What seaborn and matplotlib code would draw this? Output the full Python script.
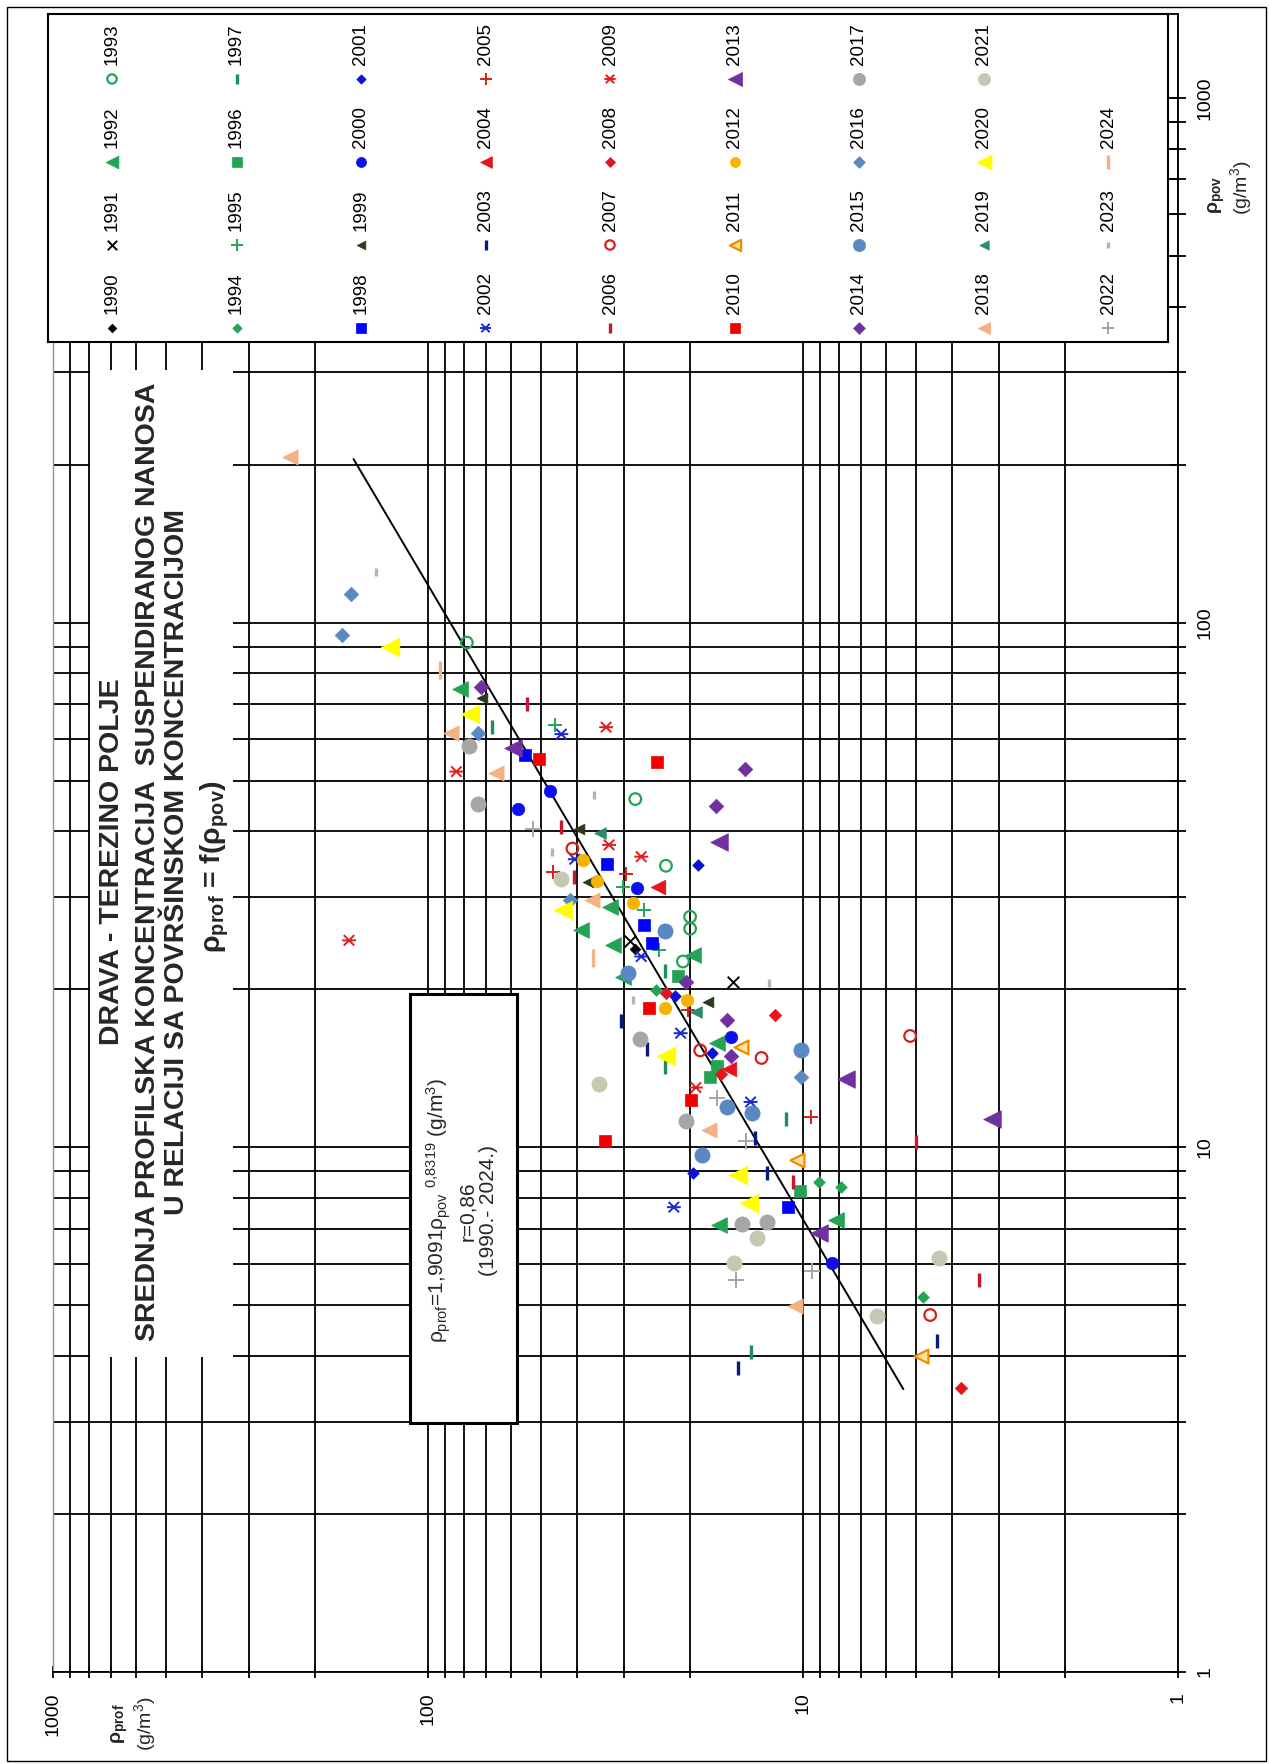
import numpy as np
import pandas as pd
import seaborn as sns
import matplotlib.pyplot as plt
from matplotlib import font_manager
from matplotlib.patches import Rectangle
from matplotlib.path import Path
from matplotlib.ticker import LogLocator, NullFormatter, FixedLocator

# values, g/m3 (one sub-list per year)
years = list(range(1990, 2025))
pov_values = [
    [23.9],
    [24.7, 20.7],
    [74.6, 28.7, 26.0, 24.3, 21.1, 23.3, 15.8, 7.11, 7.27],
    [91.6, 46.1, 34.4, 27.5, 26.1, 22.6],
    [19.9, 8.58, 8.39, 5.19],
    [63.8, 31.4, 28.3, 23.8],
    [21.2, 13.6, 14.3, 8.27],
    [63.2, 21.7, 14.2, 4.08, 11.3],
    [55.9, 34.6, 26.5, 24.5, 7.69],
    [71.7, 40.5, 18.9, 32.1],
    [44.1, 47.8, 31.2, 16.2, 6.01],
    [34.5, 19.4, 15.1, 8.92],
    [61.3, 35.4, 23.1, 16.5, 12.2, 7.69],
    [17.4, 15.4, 10.4, 8.92, 3.79, 4.28],
    [31.4, 14.1],
    [33.4, 33.2, 18.3, 11.4],
    [70.0, 40.8, 32.7, 10.25, 8.6, 5.59],
    [37.1, 14.8, 15.3, 16.3, 4.79],
    [19.7, 13.8, 17.9, 3.47],
    [52.0, 63.2, 37.7, 35.8, 13.0, 24.8],
    [55.0, 54.2, 18.4, 12.3, 10.3],
    [15.5, 9.46, 4.0],
    [35.3, 32.2, 29.2, 19.1, 18.4],
    [57.6, 38.1, 13.5, 11.3, 6.87],
    [75.5, 52.5, 44.7, 20.7, 17.5, 14.9],
    [21.5, 25.8, 11.95, 11.6, 9.67, 15.3],
    [113.2, 94.7, 61.7, 29.6, 13.6],
    [58.2, 45.1, 16.1, 11.2, 7.14, 7.22],
    [207.0, 61.5, 51.6, 29.6, 10.8, 4.98],
    [39.7, 18.1],
    [90.0, 67.0, 28.3, 14.9, 8.86, 7.82],
    [32.4, 13.2, 6.71, 6.03, 6.14, 4.77],
    [40.4, 12.4, 10.3, 5.59, 5.82],
    [124.9, 46.9, 36.6, 19.1, 20.6],
    [81.2, 23.0],
]
prof_values = [
    [28.0],
    [29.0, 15.4],
    [82.0, 32.8, 39.0, 32.1, 30.2, 19.7, 17.0, 16.7, 8.16],
    [78.8, 28.0, 23.2, 20.0, 20.0, 20.9],
    [24.6, 9.04, 7.91, 4.78],
    [45.9, 30.2, 26.5, 24.2],
    [21.6, 17.7, 17.0, 10.2],
    [67.4, 23.3, 23.3, 13.8, 11.1],
    [55.2, 33.3, 26.5, 25.2, 10.98],
    [71.6, 39.6, 17.9, 37.5],
    [57.5, 47.4, 27.7, 15.6, 8.36],
    [19.1, 21.9, 17.5, 19.7],
    [44.1, 40.6, 27.0, 21.2, 13.8, 22.1],
    [30.5, 26.1, 13.4, 12.5, 14.9, 4.40],
    [24.4, 15.8],
    [46.4, 29.6, 20.3, 9.51],
    [54.5, 44.1, 40.9, 5.0, 10.65, 3.40],
    [41.2, 12.9, 18.8, 5.18, 4.58],
    [23.2, 16.5, 11.9, 3.79],
    [84.0, 33.5, 32.9, 27.0, 19.3, 162.4],
    [50.7, 24.5, 25.7, 19.9, 33.8],
    [14.6, 10.4, 4.84],
    [38.5, 35.5, 28.4, 20.4, 23.4],
    [59.4, 16.8, 7.68, 3.13, 9.04],
    [72.1, 14.3, 17.1, 20.5, 15.9, 15.6],
    [29.3, 23.4, 15.9, 13.7, 18.6, 10.1],
    [160.7, 169.8, 73.6, 41.9, 10.1],
    [77.7, 73.6, 27.2, 20.5, 14.5, 12.5],
    [234.0, 86.6, 65.7, 36.5, 17.8, 10.5],
    [34.7, 19.3],
    [126.5, 77.4, 43.7, 23.2, 14.9, 13.9],
    [44.1, 35.1, 13.3, 15.3, 4.33, 6.36],
    [52.5, 17.0, 14.2, 15.1, 9.46],
    [137.8, 36.0, 46.7, 28.4, 12.3],
    [93.0, 36.2],
]
# regression line end points
line_pov = [3.46, 205.0]
line_prof = [5.4, 158.0]

tick_values = [1, 10, 100, 1000]
tick_labels = ["1", "10", "100", "1000"]

title_lines = ["DRAVA - TEREZINO POLJE",
               "SREDNJA PROFILSKA KONCENTRACIJA  SUSPENDIRANOG NANOSA",
               "U RELACIJI SA POVRŠINSKOM KONCENTRACIJOM"]
title_formula = r"$\mathbf{ρ_{prof}}$ = f($\mathbf{ρ_{pov}}$)"
eq_lines = [r"$ρ_{prof}$=1,9091$ρ_{pov}$ $^{0{,}8319}$ (g/m$^3$)",
            "r=0,86",
            "(1990.- 2024.)"]

# chart is drawn turned by 90 degrees: x = rho_prof (reversed), y = rho_pov
STAR = Path([(-1, 0), (1, 0), (-0.75, -0.75), (0.75, 0.75), (-0.75, 0.75), (0.75, -0.75)],
            [Path.MOVETO, Path.LINETO, Path.MOVETO, Path.LINETO, Path.MOVETO, Path.LINETO])
GREEN = "#23a455"
year_style = {
    1990: ("D", "#000000", 30, "fill"),
    1991: ("x", "#000000", 70, "line"),
    1992: ("<", GREEN, 130, "fill"),
    1993: ("o", GREEN, 70, "open"),
    1994: ("D", GREEN, 35, "fill"),
    1995: ("+", GREEN, 100, "line"),
    1996: ("s", GREEN, 70, "fill"),
    1997: ("|", "#1f8f5a", 90, "line"),
    1998: ("s", "#0000ff", 80, "fill"),
    1999: ("<", "#2b3a1c", 60, "fill"),
    2000: ("o", "#0a10ee", 80, "fill"),
    2001: ("D", "#0a10dd", 35, "fill"),
    2002: (STAR, "#1a2ad0", 100, "star"),
    2003: ("|", "#0a1a7a", 90, "line"),
    2004: ("<", "#e8141c", 110, "fill"),
    2005: ("+", "#d42020", 100, "line"),
    2006: ("|", "#c41a2e", 90, "line"),
    2007: ("o", "#d42020", 70, "open"),
    2008: ("D", "#e8141c", 40, "fill"),
    2009: (STAR, "#e02020", 100, "star"),
    2010: ("s", "#f00000", 85, "fill"),
    2011: ("<", "#f08c00", 100, "pale"),
    2012: ("o", "#f5b400", 80, "fill"),
    2013: ("<", "#7030a0", 160, "fill"),
    2014: ("D", "#7030a0", 55, "fill"),
    2015: ("o", "#5b87c2", 120, "fill"),
    2016: ("D", "#5b87c2", 55, "fill"),
    2017: ("o", "#a6a6a6", 120, "fill"),
    2018: ("<", "#f4b183", 120, "fill"),
    2019: ("<", "#2e8b6a", 70, "fill"),
    2020: ("<", "#ffff00", 180, "fill"),
    2021: ("o", "#c5c9b2", 120, "fill"),
    2022: ("+", "#a6a6a6", 120, "line"),
    2023: ("|", "#b4b4b4", 35, "line"),
    2024: ("|", "#f4b183", 150, "line"),
}

sns.set_theme(style="white")
names = {f.name for f in font_manager.fontManager.ttflist}
base_font = "Liberation Sans Narrow" if "Liberation Sans Narrow" in names else "Liberation Sans"
k = 1.2 if base_font.endswith("Narrow") else 1.0
plt.rcParams["font.family"] = [base_font, "DejaVu Sans"]
plt.rcParams["mathtext.fontset"] = "custom"
plt.rcParams["mathtext.rm"] = base_font
plt.rcParams["mathtext.it"] = base_font
plt.rcParams["mathtext.bf"] = base_font + ":bold"

W, H = 1269, 1764


def fx(px):
    return px / W


def fy(py):
    return 1 - py / H


def draw_year(axis, xs, ys, year, scale=1.0):
    m, c, s, kind = year_style[year]
    kw = dict(marker=m, s=s * scale, ax=axis, legend=False, zorder=4)
    if kind == "fill":
        kw.update(color=c, edgecolor=c, linewidth=0.5)
    elif kind == "open":
        kw.update(color=c, facecolor="none", edgecolor=c, linewidth=1.6)
    elif kind == "pale":
        kw.update(color=c, facecolor="#ffe49a", edgecolor=c, linewidth=1.6)
    elif kind == "star":
        kw.update(color=c, facecolor="none", edgecolor=c, linewidth=1.4)
    else:
        kw.update(color=c, linewidth=2.4 if m == "|" else 1.4)
    sns.scatterplot(x=xs, y=ys, **kw)


fig = plt.figure(figsize=(W / 100, H / 100), dpi=100)
fig.patch.set_facecolor("white")
ax = fig.add_axes([fx(53), fy(1672), (1178 - 53) / W, (1672 - 14) / H])
ax.set_xscale("log")
ax.set_yscale("log")

df = pd.DataFrame({
    "year": [y for y, v in zip(years, pov_values) for _ in v],
    "pov": [p for v in pov_values for p in v],
    "prof": [p for v in prof_values for p in v],
})
for yr, g in df.groupby("year"):
    draw_year(ax, g["prof"].tolist(), g["pov"].tolist(), yr)

ax.plot(line_prof, line_pov, color="black", lw=1.4, zorder=3)

ax.set_xlim(1000, 1)
ax.set_ylim(1, 10 ** (1658 / 524.7))
ax.set_xlabel("")
ax.set_ylabel("")
for axis in (ax.xaxis, ax.yaxis):
    axis.set_major_locator(FixedLocator(tick_values))
    axis.set_minor_locator(LogLocator(base=10, subs=np.arange(2, 10)))
    axis.set_minor_formatter(NullFormatter())
ax.set_xticks(tick_values)
ax.set_xticklabels(tick_labels, rotation=90, fontsize=14 * k)
ax.yaxis.tick_right()
ax.set_yticks(tick_values)
ax.set_yticklabels(tick_labels, rotation=90, va="center", fontsize=14 * k)
ax.tick_params(axis="x", which="both", direction="inout", length=9, width=1.3,
               pad=10, bottom=True, color="black", labelcolor="black")
ax.tick_params(axis="y", which="both", direction="inout", length=12, width=1.3,
               pad=7.5, right=True, left=False, color="black", labelcolor="black")
ax.grid(True, which="both", color="black", linewidth=1.3)
ax.set_axisbelow(True)
for side, sp in ax.spines.items():
    sp.set_color("black")
    sp.set_linewidth(1.3)
ax.spines["left"].set_color("#909090")
ax.spines["left"].set_linewidth(1.0)

# white area behind the title and the equation box
fig.add_artist(Rectangle((fx(90), fy(1357)), (233 - 90) / W, (1357 - 370) / H,
                         transform=fig.transFigure, facecolor="white",
                         edgecolor="none", zorder=1))
fig.add_artist(Rectangle((fx(410), fy(1423)), (517 - 410) / W, (1423 - 994) / H,
                         transform=fig.transFigure, facecolor="white",
                         edgecolor="black", linewidth=2.2, zorder=1))


def vtext(px, py, s, **kw):
    fig.text(fx(px), fy(py), s, rotation=90, ha="center", va="center", **kw)


for px, line in zip([112, 148, 177], title_lines):
    vtext(px, 862, line, fontsize=20.5 * k, fontweight="bold")
vtext(215, 866, title_formula, fontsize=20.5 * k, fontweight="bold")

for px, line in zip([439, 468, 488], eq_lines):
    vtext(px, 1211, line, fontsize=15 * k)

vtext(120, 1724, r"$\mathbf{ρ_{prof}}$", fontsize=14 * k)
vtext(145, 1724, "(g/m$^3$)", fontsize=14 * k)
vtext(1217, 195, r"$\mathbf{ρ_{pov}}$", fontsize=14 * k)
vtext(1241, 188, "(g/m$^3$)", fontsize=14 * k)

# legend, drawn in the same turned layout
lax = fig.add_axes([fx(48), fy(342), (1168 - 48) / W, (342 - 14) / H])
lax.set_zorder(5)
lax.set_facecolor("white")
for i, yr in enumerate(years):
    col, row = divmod(i, 4)
    lx = 112 + col * 124.5
    ly = 328 - row * 83
    draw_year(lax, [lx], [ly], yr, scale=0.65)
    lax.text(lx, ly - 14, str(yr), rotation=90, ha="center", va="bottom",
             fontsize=13.5 * k, color="black")
lax.set_xlim(48, 1168)
lax.set_ylim(342, 14)
lax.set_xticks([])
lax.set_yticks([])
lax.set_xlabel("")
lax.set_ylabel("")
for sp in lax.spines.values():
    sp.set_visible(True)
    sp.set_color("black")
    sp.set_linewidth(1.5)

fig.add_artist(Rectangle((fx(7), fy(1761)), 1259 / W, 1754 / H,
                         transform=fig.transFigure, fill=False,
                         edgecolor="black", linewidth=1.0, zorder=10))

fig.savefig("out.png", dpi=100)
